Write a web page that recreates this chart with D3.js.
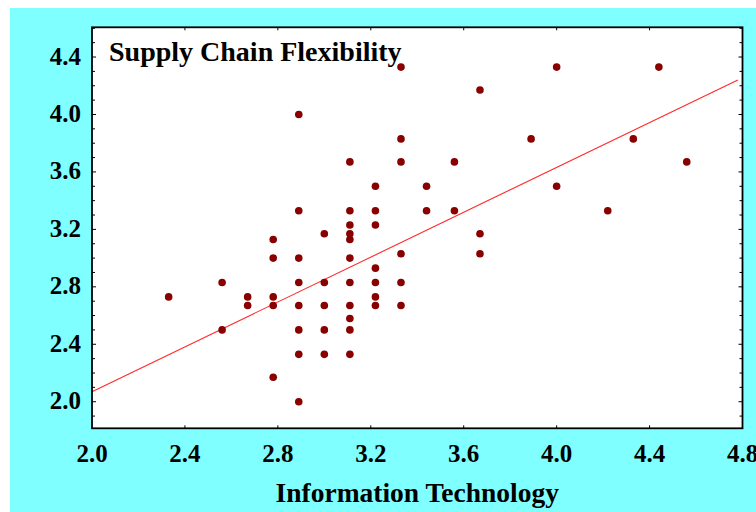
<!DOCTYPE html>
<html>
<head>
<meta charset="utf-8">
<script src="https://cdn.jsdelivr.net/npm/d3@7.9.0/dist/d3.min.js"></script>
<style>
  html, body { margin: 0; padding: 0; background: #fff; }
  svg { display: block; }
  text { font-family: "Liberation Serif", "Times New Roman", serif; font-weight: bold; fill: #000; }
</style>
</head>
<body>
<svg id="chart"></svg>
<script>
// Information Technology (x) vs Supply Chain Flexibility (y)
const itScores = [
  2.33, 2.56, 2.56, 2.67, 2.67,
  2.78, 2.78, 2.78, 2.78, 2.78,
  2.89, 2.89, 2.89, 2.89, 2.89, 2.89, 2.89, 2.89,
  3.0, 3.0, 3.0, 3.0, 3.0,
  3.11, 3.11, 3.11, 3.11, 3.11, 3.11, 3.11, 3.11, 3.11, 3.11, 3.11,
  3.22, 3.22, 3.22, 3.22, 3.22, 3.22, 3.22,
  3.33, 3.33, 3.33, 3.33, 3.33, 3.33,
  3.44, 3.44, 3.56, 3.56,
  3.67, 3.67, 3.67,
  3.89, 4.0, 4.0, 4.22, 4.33, 4.44, 4.56
];
const scfScores = [
  2.73, 2.83, 2.5, 2.73, 2.67,
  3.13, 3.0, 2.73, 2.67, 2.17,
  4.0, 3.33, 3.0, 2.83, 2.67, 2.5, 2.33, 2.0,
  3.17, 2.83, 2.67, 2.5, 2.33,
  3.67, 3.33, 3.23, 3.17, 3.13, 3.0, 2.83, 2.67, 2.58, 2.5, 2.33,
  3.5, 3.33, 3.23, 2.93, 2.83, 2.73, 2.67,
  4.33, 3.83, 3.67, 3.03, 2.83, 2.67,
  3.5, 3.33, 3.67, 3.33,
  4.17, 3.17, 3.03,
  3.83, 4.33, 3.5, 3.33, 3.83, 4.33, 3.67
];

// fitted line end points as drawn
const fitX = [2.0, 4.78];
const fitY = [2.07, 4.24];

const xTicks = [2.0, 2.4, 2.8, 3.2, 3.6, 4.0, 4.4, 4.8];
const yTicks = [2.0, 2.4, 2.8, 3.2, 3.6, 4.0, 4.4];

const title = 'Supply Chain Flexibility';
const xTitle = 'Information Technology';

const width = 756;
const height = 512;

const plot = { left: 92, right: 742.5, top: 27.3, bottom: 428.3 };

const svg = d3.select('#chart')
  .attr('width', width)
  .attr('height', height);

// cyan panel
svg.append('rect')
  .attr('x', 10).attr('y', 8)
  .attr('width', width - 10).attr('height', height - 8)
  .attr('fill', '#7fffff');

const x = d3.scaleLinear().domain([2.0, 4.8]).range([plot.left, plot.right]);
const y = d3.scaleLinear().domain([1.815, 4.607]).range([plot.bottom, plot.top]);

// plot area
svg.append('rect')
  .attr('x', plot.left).attr('y', plot.top)
  .attr('width', plot.right - plot.left).attr('height', plot.bottom - plot.top)
  .attr('fill', '#fff');

// minor y ticks every 0.1 on both sides
const yMinor = d3.range(19, 47).map(d => d / 10);

const ticks = svg.append('g').attr('stroke', '#000').attr('stroke-width', 1);
ticks.selectAll('.yl')
  .data(yMinor)
  .join('line')
  .attr('x1', plot.left).attr('x2', d => plot.left + (yTicks.includes(d) ? 4 : 3))
  .attr('y1', d => y(d)).attr('y2', d => y(d));
ticks.selectAll('.yr')
  .data(yMinor)
  .join('line')
  .attr('x1', plot.right).attr('x2', d => plot.right - (yTicks.includes(d) ? 4 : 3))
  .attr('y1', d => y(d)).attr('y2', d => y(d));
ticks.selectAll('.xb')
  .data(xTicks.slice(1, -1))
  .join('line')
  .attr('x1', d => x(d)).attr('x2', d => x(d))
  .attr('y1', plot.bottom).attr('y2', plot.bottom - 3);
ticks.selectAll('.xt')
  .data(xTicks.slice(1, -1))
  .join('line')
  .attr('x1', d => x(d)).attr('x2', d => x(d))
  .attr('y1', plot.top).attr('y2', plot.top + 3);

// regression line
svg.append('line')
  .attr('x1', x(fitX[0])).attr('y1', y(fitY[0]))
  .attr('x2', x(fitX[1])).attr('y2', y(fitY[1]))
  .attr('stroke', '#ff2a2a')
  .attr('stroke-width', 1.1);

// points
const points = itScores.map((v, i) => ({ it: v, scf: scfScores[i] }));
svg.append('g')
  .selectAll('circle')
  .data(points)
  .join('circle')
  .attr('cx', d => x(d.it))
  .attr('cy', d => y(d.scf))
  .attr('r', 3.8)
  .attr('fill', '#880000');

// frame
svg.append('rect')
  .attr('x', plot.left).attr('y', plot.top)
  .attr('width', plot.right - plot.left).attr('height', plot.bottom - plot.top)
  .attr('fill', 'none')
  .attr('stroke', '#000')
  .attr('stroke-width', 1.8);

// tick labels
svg.append('g')
  .selectAll('text')
  .data(yTicks)
  .join('text')
  .attr('x', 81)
  .attr('y', d => y(d) + 7.5)
  .attr('text-anchor', 'end')
  .attr('font-size', 25)
  .text(d => d.toFixed(1));

svg.append('g')
  .selectAll('text')
  .data(xTicks)
  .join('text')
  .attr('x', d => x(d))
  .attr('y', 462)
  .attr('text-anchor', 'middle')
  .attr('font-size', 25)
  .text(d => d.toFixed(1));

// titles
svg.append('text')
  .attr('x', 109)
  .attr('y', 60.5)
  .attr('font-size', 28)
  .text(title);

svg.append('text')
  .attr('x', (plot.left + plot.right) / 2)
  .attr('y', 501.5)
  .attr('text-anchor', 'middle')
  .attr('font-size', 27.5)
  .text(xTitle);
</script>
</body>
</html>
